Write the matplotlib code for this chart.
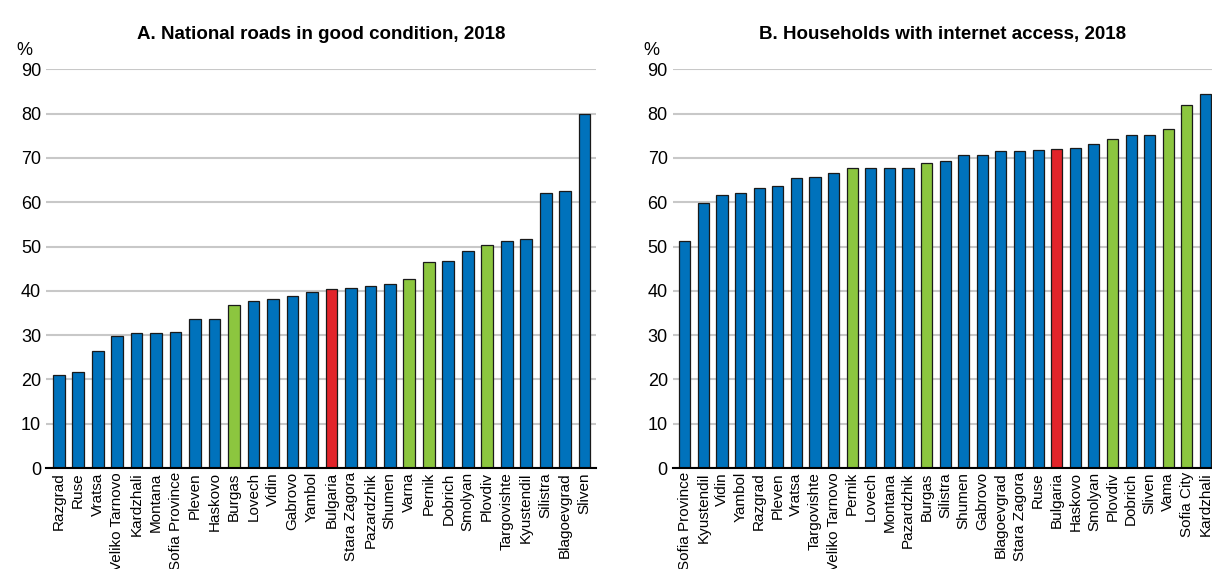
import matplotlib.pyplot as plt

plt.rcParams['font.family'] = ['Liberation Sans Narrow', 'Liberation Sans', 'DejaVu Sans']

# --- colours ---
blue = "#0072BC"
green = "#8CC63F"
red = "#E2242A"

# --- Panel A: national roads in good condition ---
roads_regions = ["Razgrad", "Ruse", "Vratsa", "Veliko Tarnovo", "Kardzhali", "Montana",
                 "Sofia Province", "Pleven", "Haskovo", "Burgas", "Lovech", "Vidin",
                 "Gabrovo", "Yambol", "Bulgaria", "Stara Zagora", "Pazardzhik", "Shumen",
                 "Varna", "Pernik", "Dobrich", "Smolyan", "Plovdiv", "Targovishte",
                 "Kyustendil", "Silistra", "Blagoevgrad", "Sliven"]
roads_values = [21.1, 21.6, 26.4, 29.7, 30.4, 30.4, 30.6, 33.6, 33.6, 36.8, 37.8, 38.2,
                38.8, 39.8, 40.4, 40.6, 41.0, 41.6, 42.7, 46.6, 46.8, 49.1, 50.3, 51.3,
                51.7, 62.2, 62.5, 80.0]

# --- Panel B: households with internet access ---
net_regions = ["Sofia Province", "Kyustendil", "Vidin", "Yambol", "Razgrad", "Pleven",
               "Vratsa", "Targovishte", "Veliko Tarnovo", "Pernik", "Lovech", "Montana",
               "Pazardzhik", "Burgas", "Silistra", "Shumen", "Gabrovo", "Blagoevgrad",
               "Stara Zagora", "Ruse", "Bulgaria", "Haskovo", "Smolyan", "Plovdiv",
               "Dobrich", "Sliven", "Vama", "Sofia City", "Kardzhali"]
net_values = [51.3, 59.8, 61.7, 62.2, 63.3, 63.7, 65.5, 65.7, 66.6, 67.7, 67.8, 67.8,
              67.8, 68.9, 69.4, 70.6, 70.7, 71.5, 71.5, 71.9, 72.1, 72.3, 73.1, 74.4,
              75.3, 75.3, 76.5, 81.9, 84.4]

# highlighted regions (big cities) and the national average
green_set = {"Burgas", "Varna", "Vama", "Pernik", "Plovdiv", "Sofia City"}
yticks = [0, 10, 20, 30, 40, 50, 60, 70, 80, 90]


def bar_colours(names):
    cols = []
    for n in names:
        if n == "Bulgaria":
            cols.append(red)
        elif n in green_set:
            cols.append(green)
        else:
            cols.append(blue)
    return cols


def draw_panel(ax, names, values, title, xlim):
    ax.set_axisbelow(True)
    ax.grid(axis="y", color="#C8C8C8", linewidth=1.5)
    ax.bar(range(len(names)), values, width=0.6, color=bar_colours(names),
           edgecolor="#1a1a1a", linewidth=0.9)
    ax.set_ylim(0, 90)
    ax.set_xlim(*xlim)
    ax.set_yticks(yticks)
    ax.set_xticks(range(len(names)))
    ax.set_xticklabels(names, rotation=90)
    ax.tick_params(axis="both", length=0, labelsize=13)
    ax.tick_params(axis="x", pad=3, labelsize=11)
    for s in ["top", "right", "left"]:
        ax.spines[s].set_visible(False)
    ax.spines["bottom"].set_linewidth(1.5)
    ax.set_title(title, fontsize=13.5, fontweight="bold", pad=22)
    ax.text(-0.04, 1.025, "%", transform=ax.transAxes, fontsize=13, ha="center", va="bottom")


fig = plt.figure(figsize=(12.12, 5.69), dpi=100)
ax1 = fig.add_axes([0.038, 0.1775, 0.454, 0.7005])
ax2 = fig.add_axes([0.555, 0.1775, 0.445, 0.7005])

draw_panel(ax1, roads_regions, roads_values, "A. National roads in good condition, 2018", (-0.65, 27.6))
draw_panel(ax2, net_regions, net_values, "B. Households with internet access, 2018", (-0.65, 28.35))

fig.savefig("out.png", dpi=100)
